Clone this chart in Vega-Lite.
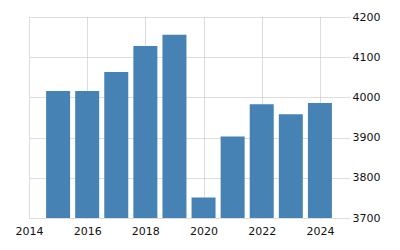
{
  "$schema": "https://vega.github.io/schema/vega-lite/v6.json",
  "width": 320,
  "height": 201,
  "autosize": {"type": "none"},
  "padding": {"left": 29, "top": 17, "right": 51, "bottom": 32},
  "background": "white",
  "config": {"view": {"stroke": null}},
  "data": {"values": [
    {"year": 2015, "value": 4016},
    {"year": 2016, "value": 4016},
    {"year": 2017, "value": 4063},
    {"year": 2018, "value": 4128},
    {"year": 2019, "value": 4156},
    {"year": 2020, "value": 3751},
    {"year": 2021, "value": 3903},
    {"year": 2022, "value": 3983},
    {"year": 2023, "value": 3958},
    {"year": 2024, "value": 3986}
  ]},
  "mark": {"type": "bar", "width": 24, "color": "#4682b4", "clip": true},
  "encoding": {
    "x": {
      "field": "year", "type": "quantitative",
      "scale": {"domain": [2014, 2025], "nice": false, "zero": false, "padding": 0},
      "axis": {
        "title": null, "values": [2014, 2016, 2018, 2020, 2022, 2024], "format": "d",
        "domain": false, "ticks": false, "labelPadding": 7, "labelFlush": false, "labelOverlap": false,
        "labelFont": "DejaVu Sans", "labelFontSize": 11, "labelColor": "#111",
        "grid": true, "gridColor": "#bbbbbb", "gridDash": [1, 1], "gridWidth": 1
      }
    },
    "y": {
      "field": "value", "type": "quantitative",
      "scale": {"domain": [3700, 4200], "nice": false, "zero": false, "padding": 0},
      "axis": {
        "orient": "right", "title": null, "values": [3700, 3800, 3900, 4000, 4100, 4200], "format": "d",
        "domain": false, "ticks": false, "labelPadding": 3, "labelFlush": false,
        "labelFont": "DejaVu Sans", "labelFontSize": 11, "labelColor": "#111",
        "grid": true, "gridColor": "#bbbbbb", "gridDash": [1, 1], "gridWidth": 1
      }
    }
  }
}
